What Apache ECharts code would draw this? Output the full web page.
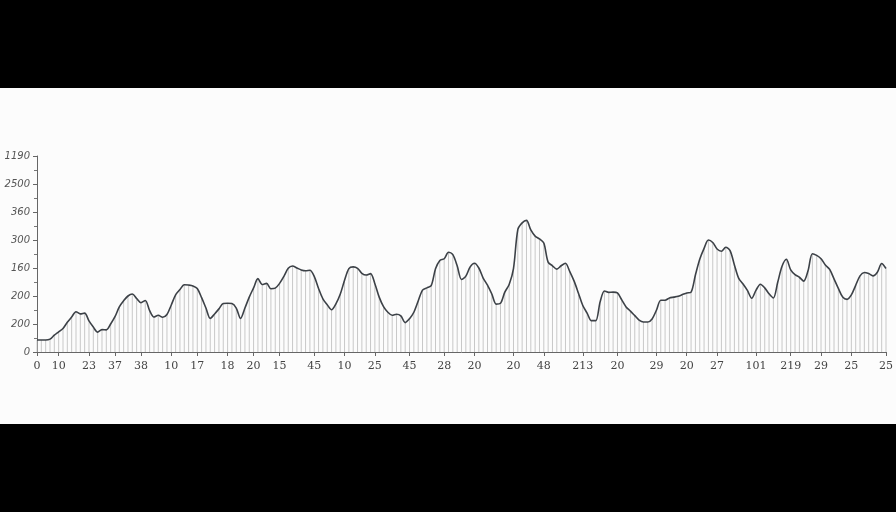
<!DOCTYPE html>
<html>
<head>
<meta charset="utf-8">
<script src="https://cdn.jsdelivr.net/npm/echarts@6/dist/echarts.min.js"></script>
<style>
html,body{margin:0;padding:0;background:#000;}
#chart{width:896px;height:512px;}
</style>
</head>
<body>
<div id="chart"></div>
<script>
// Tick labels as printed on the picture, and the sample index each one sits at
const xTickLabels = ['0','10','23','37','38','10','17','18','20','15','45','10','25','45','28','20','20','48','213','20','29','20','27','101','219','29','25','25'];
const xTickAt = [0,5,12,18,24,31,37,44,50,56,64,71,78,86,94,101,110,117,126,134,143,150,157,166,174,181,188,196];
const yTickLabels = ['0','200','200','160','300','360','2500','1190'];

// Series values (axis units: 100 per labelled y step)
const values = [
43,43,43,46,60,72,84,106,125,144,
136,139,111,89,71,80,79,100,126,161,
183,200,207,191,176,184,148,125,131,124,
134,168,204,223,240,239,236,227,194,157,
120,136,154,173,174,173,157,120,157,196,
229,262,241,245,226,228,245,270,299,307,
300,293,290,292,270,227,190,169,151,172,
206,256,298,304,299,281,275,280,244,196,
162,142,131,135,129,105,119,142,182,221,
229,237,297,327,333,356,348,308,259,271,
304,317,300,264,239,207,171,174,214,241,
298,437,461,470,436,414,404,389,321,308,
296,308,317,287,253,210,166,139,112,112,
179,218,213,214,211,186,161,146,130,114,
107,107,118,149,185,185,193,196,199,205,
211,214,275,331,370,400,391,368,360,374,
362,311,263,243,220,192,221,242,229,208,
193,249,306,331,293,276,267,253,290,351,
345,333,311,295,261,227,196,188,204,238,
272,284,280,272,285,316,298
];
const samples = values.map((v, i) => String(i));
const isTick = (idx) => xTickAt.indexOf(idx) >= 0;

const chart = echarts.init(document.getElementById('chart'), null, {renderer: 'canvas'});
chart.setOption({
  backgroundColor: '#fcfcfc',
  animation: false,
  graphic: [
    {type: 'rect', left: 0, top: 0, shape: {width: 896, height: 88}, style: {fill: '#000'}, z: -10},
    {type: 'rect', left: 0, top: 424, shape: {width: 896, height: 88}, style: {fill: '#000'}, z: -10}
  ],
  grid: {left: 37, right: 2, top: 156, bottom: 160, containLabel: false},
  xAxis: {
    type: 'category', data: samples, boundaryGap: false,
    axisLine: {show: true, lineStyle: {color: '#666', width: 1}},
    axisTick: {show: true, length: 4, interval: isTick, lineStyle: {color: '#666'}},
    axisLabel: {
      show: true, interval: isTick, margin: 9, color: '#444', fontSize: 11, fontFamily: 'DejaVu Serif',
      formatter: (val, idx) => xTickLabels[xTickAt.indexOf(idx)]
    },
    splitLine: {show: false}
  },
  yAxis: {
    type: 'value', min: 0, max: 700, interval: 100,
    axisLine: {show: true, lineStyle: {color: '#666', width: 1}},
    axisTick: {show: true, length: 4, lineStyle: {color: '#666'}},
    minorTick: {show: true, splitNumber: 2, length: 3, lineStyle: {color: '#777'}},
    axisLabel: {
      margin: 7, color: '#555', fontSize: 10, fontStyle: 'italic', fontFamily: 'DejaVu Sans',
      formatter: (v) => yTickLabels[Math.round(v / 100)]
    },
    splitLine: {show: false}
  },
  series: [
    {
      type: 'bar', data: values, barWidth: 1,
      itemStyle: {color: '#c8c8c8'}, silent: true
    },
    {
      type: 'line', data: values, smooth: 0.3, symbol: 'none',
      lineStyle: {color: '#3c4147', width: 1.6}, silent: true
    }
  ]
});
</script>
</body>
</html>
